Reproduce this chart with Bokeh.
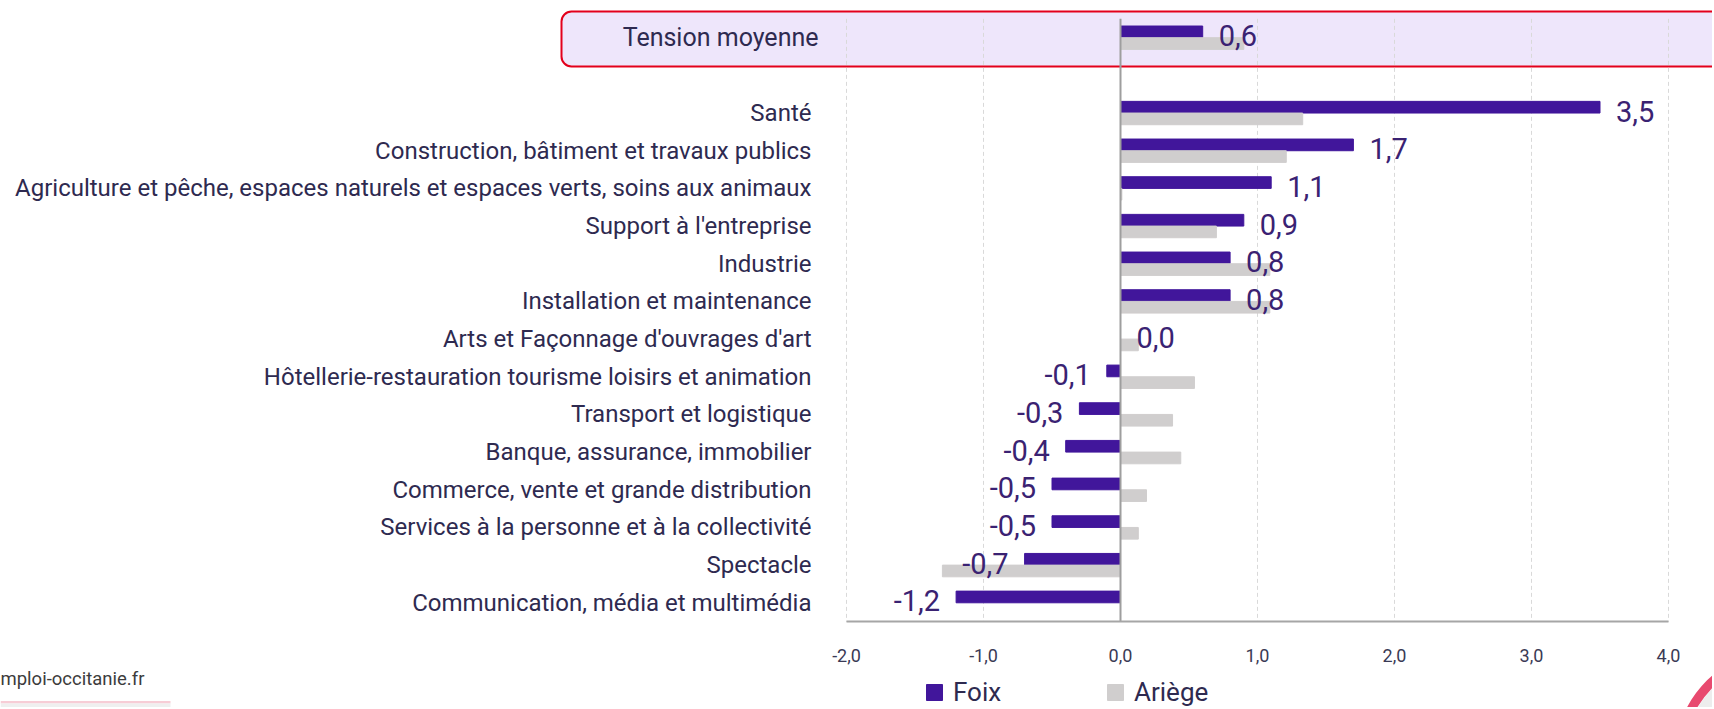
from bokeh.plotting import figure
from bokeh.models import (ColumnDataSource, Range1d, FixedTicker, Label,
                          BoxAnnotation, Legend, LegendItem)
from bokeh.core.properties import value
from bokeh.embed import file_html
from bokeh.resources import INLINE

# ---------------- data ----------------
categories = [
    "Santé",
    "Construction, bâtiment et travaux publics",
    "Agriculture et pêche, espaces naturels et espaces verts, soins aux animaux",
    "Support à l'entreprise",
    "Industrie",
    "Installation et maintenance",
    "Arts et Façonnage d'ouvrages d'art",
    "Hôtellerie-restauration tourisme loisirs et animation",
    "Transport et logistique",
    "Banque, assurance, immobilier",
    "Commerce, vente et grande distribution",
    "Services à la personne et à la collectivité",
    "Spectacle",
    "Communication, média et multimédia",
]
foix = [3.5, 1.7, 1.1, 0.9, 0.8, 0.8, 0.0, -0.1, -0.3, -0.4, -0.5, -0.5, -0.7, -1.2]
ariege = [1.33, 1.21, 0.01, 0.70, 1.09, 1.09, 0.13, 0.54, 0.38, 0.44, 0.19, 0.13, -1.30, 0.0]

avg_label = "Tension moyenne"
avg_foix = 0.6
avg_ariege = 0.90

x_ticks = [-2, -1, 0, 1, 2, 3, 4]
x_tick_labels = ["-2,0", "-1,0", "0,0", "1,0", "2,0", "3,0", "4,0"]

series_names = ["Foix", "Ariège"]
footer_text = "mploi-occitanie.fr"

# ---------------- styling / layout ----------------
FOIX_C = "#41169b"
ARIEGE_C = "#d0cece"
LABEL_C = "#2e2a50"
VALUE_C = "#3a2272"
FONT = "Roboto"

W, H = 1712, 707
# pixel layout inside the canvas
X_LO_PX, X_HI_PX = 846.0, 1668.0      # where x=-2 and x=4 fall
X_LO, X_HI = x_ticks[0], x_ticks[-1]
ROW0_PX, ROW_STEP = 37.2, 37.673        # centre of slot 0, slot pitch

ppu = (X_HI_PX - X_LO_PX) / (X_HI - X_LO)
x_start = X_LO - X_LO_PX / ppu
x_end = X_HI + (W - X_HI_PX) / ppu
y_top = -ROW0_PX / ROW_STEP
y_bot = (H - ROW0_PX) / ROW_STEP

def fmt(v):
    return f"{v:.1f}".replace(".", ",")

def py(px):
    """canvas pixel row -> slot coordinate"""
    return (px - ROW0_PX) / ROW_STEP

def px_x(px):
    """canvas pixel column -> x coordinate"""
    return X_LO + (px - X_LO_PX) / ppu

# slots: 0 = average row, 1 = gap, 2.. = categories
slots = [0] + [i + 2 for i in range(len(categories))]
all_foix = [avg_foix] + foix
all_ariege = [avg_ariege] + ariege
bh = 0.31
y_first, y_last = -0.5, slots[-1] + 0.5

src = ColumnDataSource(dict(
    yf=[s - bh / 2 for s in slots],
    ya=[s + bh / 2 for s in slots],
    foix=all_foix,
    ariege=all_ariege,
))

p = figure(width=W, height=H, output_backend="svg", toolbar_location=None,
           x_range=Range1d(x_start, x_end), y_range=Range1d(y_bot, y_top),
           x_axis_location="below", y_axis_location="left")
p.min_border = 0
p.min_border_left = 0
p.min_border_right = 0
p.min_border_top = 0
p.min_border_bottom = 0
p.outline_line_color = None
p.background_fill_color = "white"
p.border_fill_color = "white"
p.grid.visible = False

# highlighted average row box
p.add_layout(BoxAnnotation(left=px_x(561), right=x_end + 1,
                           top=py(11), bottom=py(66),
                           fill_color="#eee6fb", fill_alpha=1.0,
                           line_color="#e3001b", line_alpha=1.0, line_width=2,
                           border_radius=10, level="image"))

# dashed vertical grid limited to the plotting rows
p.segment(x0=x_ticks, y0=[y_first] * len(x_ticks), x1=x_ticks, y1=[y_last] * len(x_ticks),
          line_color="#d9d9d9", line_dash="4 3", line_width=1)

rf = p.hbar(y="yf", left=0, right="foix", height=bh, source=src,
            fill_color=FOIX_C, line_color=FOIX_C)
ra = p.hbar(y="ya", left=0, right="ariege", height=bh, source=src,
            fill_color=ARIEGE_C, line_color=ARIEGE_C)

# zero line
p.segment(x0=[0], y0=[y_first], x1=[0], y1=[y_last], line_color="#9e9e9e", line_width=2)

# value labels (Foix)
pos = [i for i, v in enumerate(all_foix) if v >= 0]
neg = [i for i, v in enumerate(all_foix) if v < 0]
for idx, align, off in ((pos, "left", 16), (neg, "right", -16)):
    s = ColumnDataSource(dict(x=[all_foix[i] for i in idx],
                              y=[slots[i] for i in idx],
                              t=[fmt(all_foix[i]) for i in idx]))
    p.text(x="x", y="y", text="t", source=s, x_offset=off, y_offset=-2,
           text_align=align, text_baseline="middle",
           text_font_size="29px", text_color=VALUE_C, text_font=value(FONT))

# axes (fixed inside the frame)
xa = p.xaxis[0]
xa.fixed_location = y_last
xa.bounds = (X_LO, X_HI)
xa.ticker = FixedTicker(ticks=x_ticks)
xa.major_label_overrides = {t: l for t, l in zip(x_ticks, x_tick_labels)}
xa.axis_line_color = "#a6a6a6"
xa.axis_line_width = 2
xa.major_tick_line_color = None
xa.major_tick_out = 0
xa.major_tick_in = 0
xa.minor_tick_line_color = None
xa.major_label_standoff = 27
xa.major_label_text_font = FONT
xa.major_label_text_font_size = "18px"
xa.major_label_text_color = "#3a3a55"

ya = p.yaxis[0]
ya.fixed_location = X_LO
ya.ticker = FixedTicker(ticks=slots[1:])
ya.major_label_overrides = {s: c for s, c in zip(slots[1:], categories)}
ya.axis_line_color = None
ya.major_tick_line_color = None
ya.major_tick_out = 0
ya.major_tick_in = 0
ya.minor_tick_line_color = None
ya.major_label_standoff = 35
ya.major_label_text_font = FONT
ya.major_label_text_font_size = "24px"
ya.major_label_text_color = LABEL_C

p.add_layout(Label(x=X_LO - 28 / ppu, y=slots[0], text=avg_label,
                   text_align="right", text_baseline="middle",
                   text_font=FONT, text_font_size="25px", text_color=LABEL_C))

# footer
p.add_layout(Label(x=x_start, y=py(678), text=footer_text,
                   text_align="left", text_baseline="middle",
                   text_font=FONT, text_font_size="18.5px", text_color="#3c3c3c"))
p.add_layout(BoxAnnotation(left=x_start, right=x_start + 170 / ppu,
                           top=py(700.5), bottom=py(703), fill_color="#f7cdd6", fill_alpha=1,
                           line_color=None))
p.add_layout(BoxAnnotation(left=x_start, right=x_start + 170 / ppu,
                           top=py(703), bottom=py(707), fill_color="#efefef", fill_alpha=1,
                           line_color=None))

# corner logo fragment (decoration)
logo_x, logo_y = px_x(1787.5), py(760.8)
p.scatter(x=[logo_x], y=[logo_y], marker="circle", size=198,
          fill_color=None, line_color="#d8d8d8", line_alpha=0.45, line_width=12)
p.scatter(x=[logo_x], y=[logo_y], marker="circle", size=220,
          fill_color=None, line_color="#e84a6f", line_width=9)

legend = Legend(items=[LegendItem(label=series_names[0], renderers=[rf]),
                       LegendItem(label=series_names[1], renderers=[ra])],
                location=(924, 0), orientation="horizontal",
                glyph_width=20, glyph_height=20, label_standoff=9, spacing=82,
                padding=0, margin=0, border_line_color=None, background_fill_alpha=0,
                label_text_font=FONT, label_text_font_size="26px", label_text_color=LABEL_C,
                label_width=70)
p.add_layout(legend, "center")

open("out.html", "w").write(file_html(p, INLINE))
